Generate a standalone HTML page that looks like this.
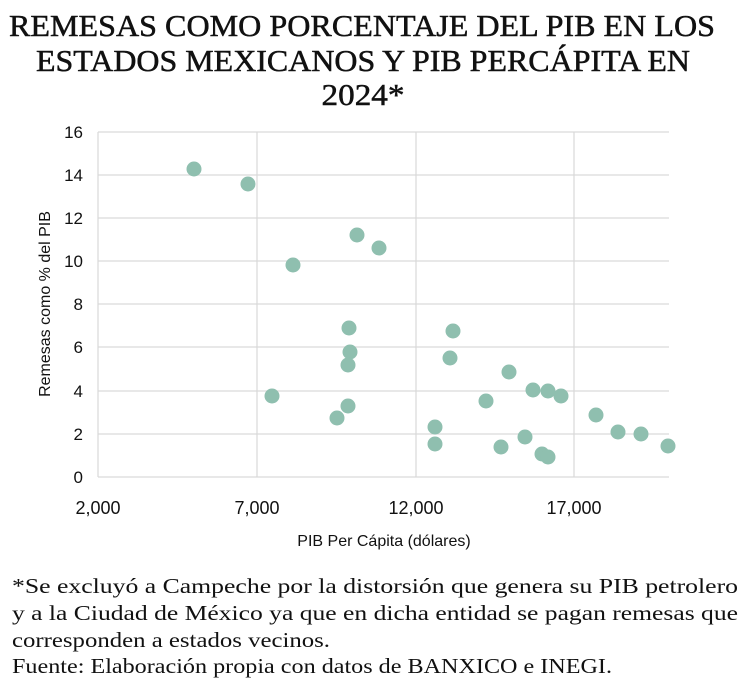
<!DOCTYPE html>
<html><head><meta charset="utf-8"><style>
html,body{margin:0;padding:0;background:#fff;}
</style></head><body>
<svg width="750" height="691" xmlns="http://www.w3.org/2000/svg">
<g font-family="Liberation Serif, serif" fill="#111">
<g stroke="#111" stroke-width="0.5">
<text x="362" y="36" font-size="31" text-anchor="middle" textLength="706" lengthAdjust="spacingAndGlyphs">REMESAS COMO PORCENTAJE DEL PIB EN LOS</text>
<text x="363" y="71" font-size="31" text-anchor="middle" textLength="654" lengthAdjust="spacingAndGlyphs">ESTADOS MEXICANOS Y PIB PERCÁPITA EN</text>
<text x="363" y="105" font-size="31" text-anchor="middle" textLength="83" lengthAdjust="spacingAndGlyphs">2024*</text>
</g>
<text x="12" y="593" font-size="21" textLength="726" lengthAdjust="spacingAndGlyphs">*Se excluyó a Campeche por la distorsión que genera su PIB petrolero</text>
<text x="12" y="620" font-size="21" textLength="726" lengthAdjust="spacingAndGlyphs">y a la Ciudad de México ya que en dicha entidad se pagan remesas que</text>
<text x="12" y="647" font-size="21" textLength="318" lengthAdjust="spacingAndGlyphs">corresponden a estados vecinos.</text>
<text x="12" y="673" font-size="21" textLength="600" lengthAdjust="spacingAndGlyphs">Fuente: Elaboración propia con datos de BANXICO e INEGI.</text>
</g>
<g stroke="#d9d9d9" stroke-width="1.2">
<line x1="98" y1="132" x2="669" y2="132"/><line x1="98" y1="175" x2="669" y2="175"/>
<line x1="98" y1="218" x2="669" y2="218"/><line x1="98" y1="261" x2="669" y2="261"/>
<line x1="98" y1="304" x2="669" y2="304"/><line x1="98" y1="347" x2="669" y2="347"/>
<line x1="98" y1="391" x2="669" y2="391"/><line x1="98" y1="434" x2="669" y2="434"/>
<line x1="98" y1="477" x2="669" y2="477"/>
<line x1="98" y1="132" x2="98" y2="477"/><line x1="257" y1="132" x2="257" y2="477"/>
<line x1="416" y1="132" x2="416" y2="477"/><line x1="574" y1="132" x2="574" y2="477"/>
</g>
<g font-family="Liberation Sans, sans-serif" font-size="17" fill="#111" text-anchor="end">
<text x="83" y="138">16</text><text x="83" y="181">14</text><text x="83" y="224">12</text>
<text x="83" y="267">10</text><text x="83" y="310">8</text><text x="83" y="353">6</text>
<text x="83" y="397">4</text><text x="83" y="440">2</text><text x="83" y="483">0</text>
</g>
<g font-family="Liberation Sans, sans-serif" font-size="18" fill="#111" text-anchor="middle">
<text x="98" y="514">2,000</text><text x="257" y="514">7,000</text>
<text x="416" y="514">12,000</text><text x="574" y="514">17,000</text>
<text x="384" y="546" font-size="16">PIB Per Cápita (dólares)</text>
<text transform="translate(50,304) rotate(-90)" font-size="16">Remesas como % del PIB</text>
</g>
<g fill="#8fbfaf">
<circle cx="194" cy="169" r="7.5"/><circle cx="248" cy="184" r="7.5"/><circle cx="293" cy="265" r="7.5"/>
<circle cx="272" cy="396" r="7.5"/><circle cx="337" cy="418" r="7.5"/><circle cx="348" cy="406" r="7.5"/>
<circle cx="349" cy="328" r="7.5"/><circle cx="350" cy="352" r="7.5"/><circle cx="348" cy="365" r="7.5"/>
<circle cx="357" cy="235" r="7.5"/><circle cx="379" cy="248" r="7.5"/><circle cx="453" cy="331" r="7.5"/>
<circle cx="450" cy="358" r="7.5"/><circle cx="435" cy="427" r="7.5"/><circle cx="435" cy="444" r="7.5"/>
<circle cx="486" cy="401" r="7.5"/><circle cx="501" cy="447" r="7.5"/><circle cx="509" cy="372" r="7.5"/>
<circle cx="525" cy="437" r="7.5"/><circle cx="533" cy="390" r="7.5"/><circle cx="542" cy="454" r="7.5"/>
<circle cx="548" cy="457" r="7.5"/><circle cx="548" cy="391" r="7.5"/><circle cx="561" cy="396" r="7.5"/>
<circle cx="596" cy="415" r="7.5"/><circle cx="618" cy="432" r="7.5"/><circle cx="641" cy="434" r="7.5"/>
<circle cx="668" cy="446" r="7.5"/>
</g>
</svg>
</body></html>
